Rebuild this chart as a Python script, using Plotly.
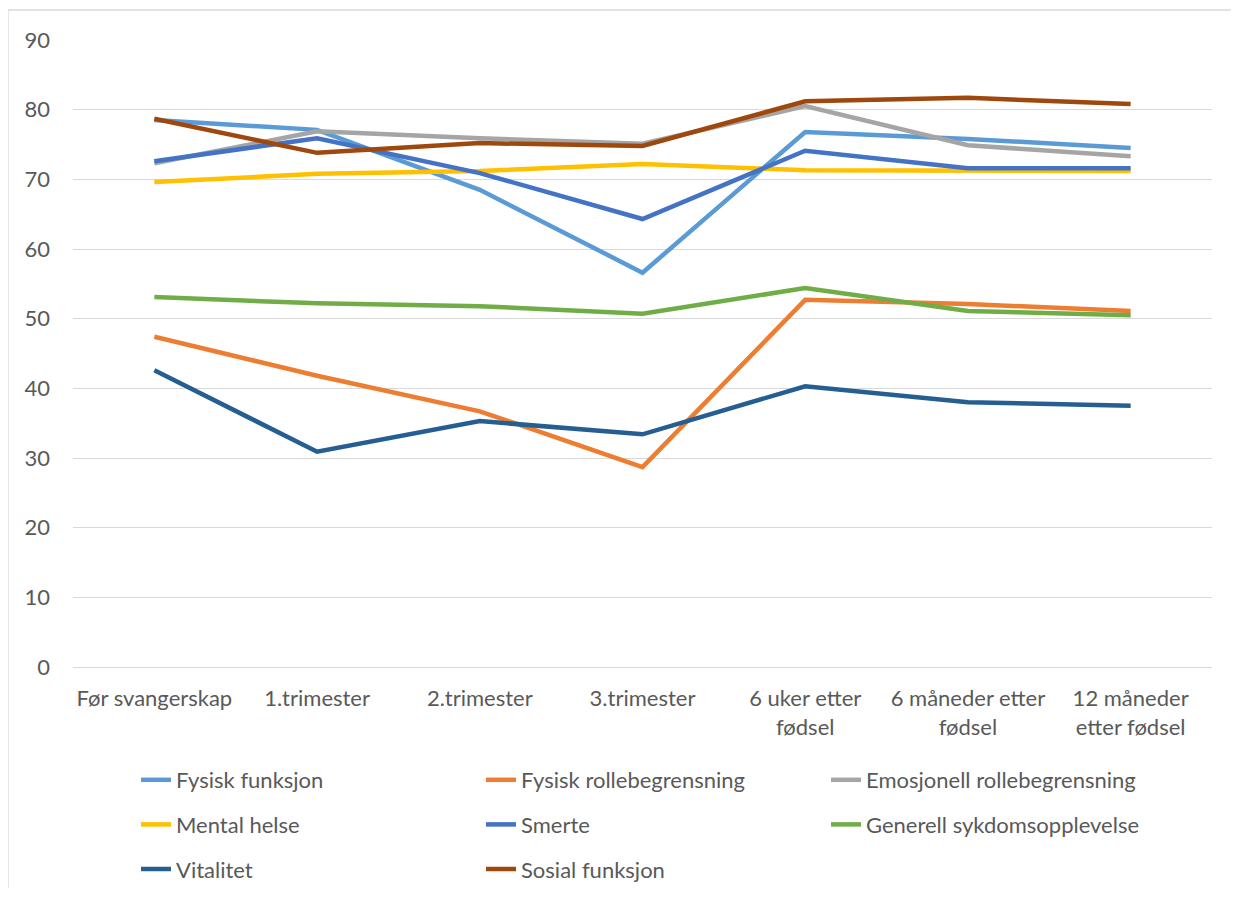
import plotly.graph_objects as go

categories = ["Før svangerskap", "1.trimester", "2.trimester", "3.trimester",
              "6 uker etter<br>fødsel", "6 måneder etter<br>fødsel", "12 måneder<br>etter fødsel"]

fysisk_funksjon = [78.5, 77.1, 68.5, 56.6, 76.8, 75.8, 74.5]
fysisk_rolle = [47.4, 41.8, 36.7, 28.7, 52.7, 52.1, 51.1]
emosjonell_rolle = [72.3, 76.9, 75.9, 75.1, 80.5, 74.9, 73.3]
mental_helse = [69.6, 70.8, 71.2, 72.2, 71.3, 71.2, 71.2]
smerte = [72.6, 75.9, 70.9, 64.3, 74.1, 71.6, 71.6]
generell = [53.1, 52.2, 51.8, 50.7, 54.4, 51.1, 50.5]
vitalitet = [42.6, 30.9, 35.3, 33.4, 40.3, 38.0, 37.5]
sosial = [78.7, 73.8, 75.2, 74.8, 81.2, 81.7, 80.8]

series = [
    ("Fysisk funksjon", fysisk_funksjon, "#5B9BD5", "legend"),
    ("Fysisk rollebegrensning", fysisk_rolle, "#ED7D31", "legend2"),
    ("Emosjonell rollebegrensning", emosjonell_rolle, "#A5A5A5", "legend3"),
    ("Mental helse", mental_helse, "#FFC000", "legend"),
    ("Smerte", smerte, "#4472C4", "legend2"),
    ("Generell sykdomsopplevelse", generell, "#70AD47", "legend3"),
    ("Vitalitet", vitalitet, "#255E91", "legend"),
    ("Sosial funksjon", sosial, "#9E480E", "legend2"),
]

FONT = "Lato"
TXT = "#595959"
FS = 22

fig = go.Figure()
for name, vals, color, lg in series:
    fig.add_trace(go.Scatter(
        x=categories, y=vals, name=name, mode="lines",
        line=dict(color=color, width=4.5),
        legend=lg, legendgroup=name,
    ))

# figure is drawn inside the page's 8px body margin
OFF = 8
W, H = 1223, 880
L, R, T, B = 73 - OFF, 1212 - OFF, 40 - OFF, 667 - OFF
pw, ph = R - L, B - T

def px_x(p):
    return (p - OFF - L) / pw

def px_y(p):
    return (B - (p - OFF)) / ph

legend_common = dict(
    orientation="v", xanchor="left", yanchor="top",
    font=dict(family=FONT, size=FS, color=TXT),
    bgcolor="rgba(0,0,0,0)", tracegroupgap=13,
    itemwidth=30,
)

fig.update_layout(
    width=W, height=H,
    margin=dict(l=L, r=W - R, t=T, b=H - B, autoexpand=False),
    paper_bgcolor="white", plot_bgcolor="white",
    font=dict(family=FONT, size=FS, color=TXT),
    xaxis=dict(
        range=[-0.5, 6.5], automargin=False,
        showgrid=False, showline=False, zeroline=False,
        tickfont=dict(family=FONT, size=FS, color=TXT),
        ticklabelstandoff=16,
    ),
    yaxis=dict(
        range=[0, 90], dtick=10, showgrid=True, gridcolor="#D9D9D9", gridwidth=1.3,
        zeroline=True, zerolinecolor="#D9D9D9", zerolinewidth=1.3,
        showline=False, automargin=False,
        tickfont=dict(family=FONT, size=FS, color=TXT),
        ticklabelstandoff=22,
    ),
    legend=dict(x=px_x(136), y=px_y(759), **legend_common),
    legend2=dict(x=px_x(481), y=px_y(759), **legend_common),
    legend3=dict(x=px_x(826), y=px_y(759), **legend_common),
    shapes=[
        dict(type="line", xref="paper", yref="paper",
             x0=px_x(8), x1=px_x(1245), y0=px_y(10), y1=px_y(10),
             line=dict(color="#D9D9D9", width=1.3)),
        dict(type="line", xref="paper", yref="paper",
             x0=px_x(8), x1=px_x(8), y0=px_y(10), y1=px_y(900),
             line=dict(color="#D9D9D9", width=1.3)),
    ],
)

fig.write_html("out.html")
